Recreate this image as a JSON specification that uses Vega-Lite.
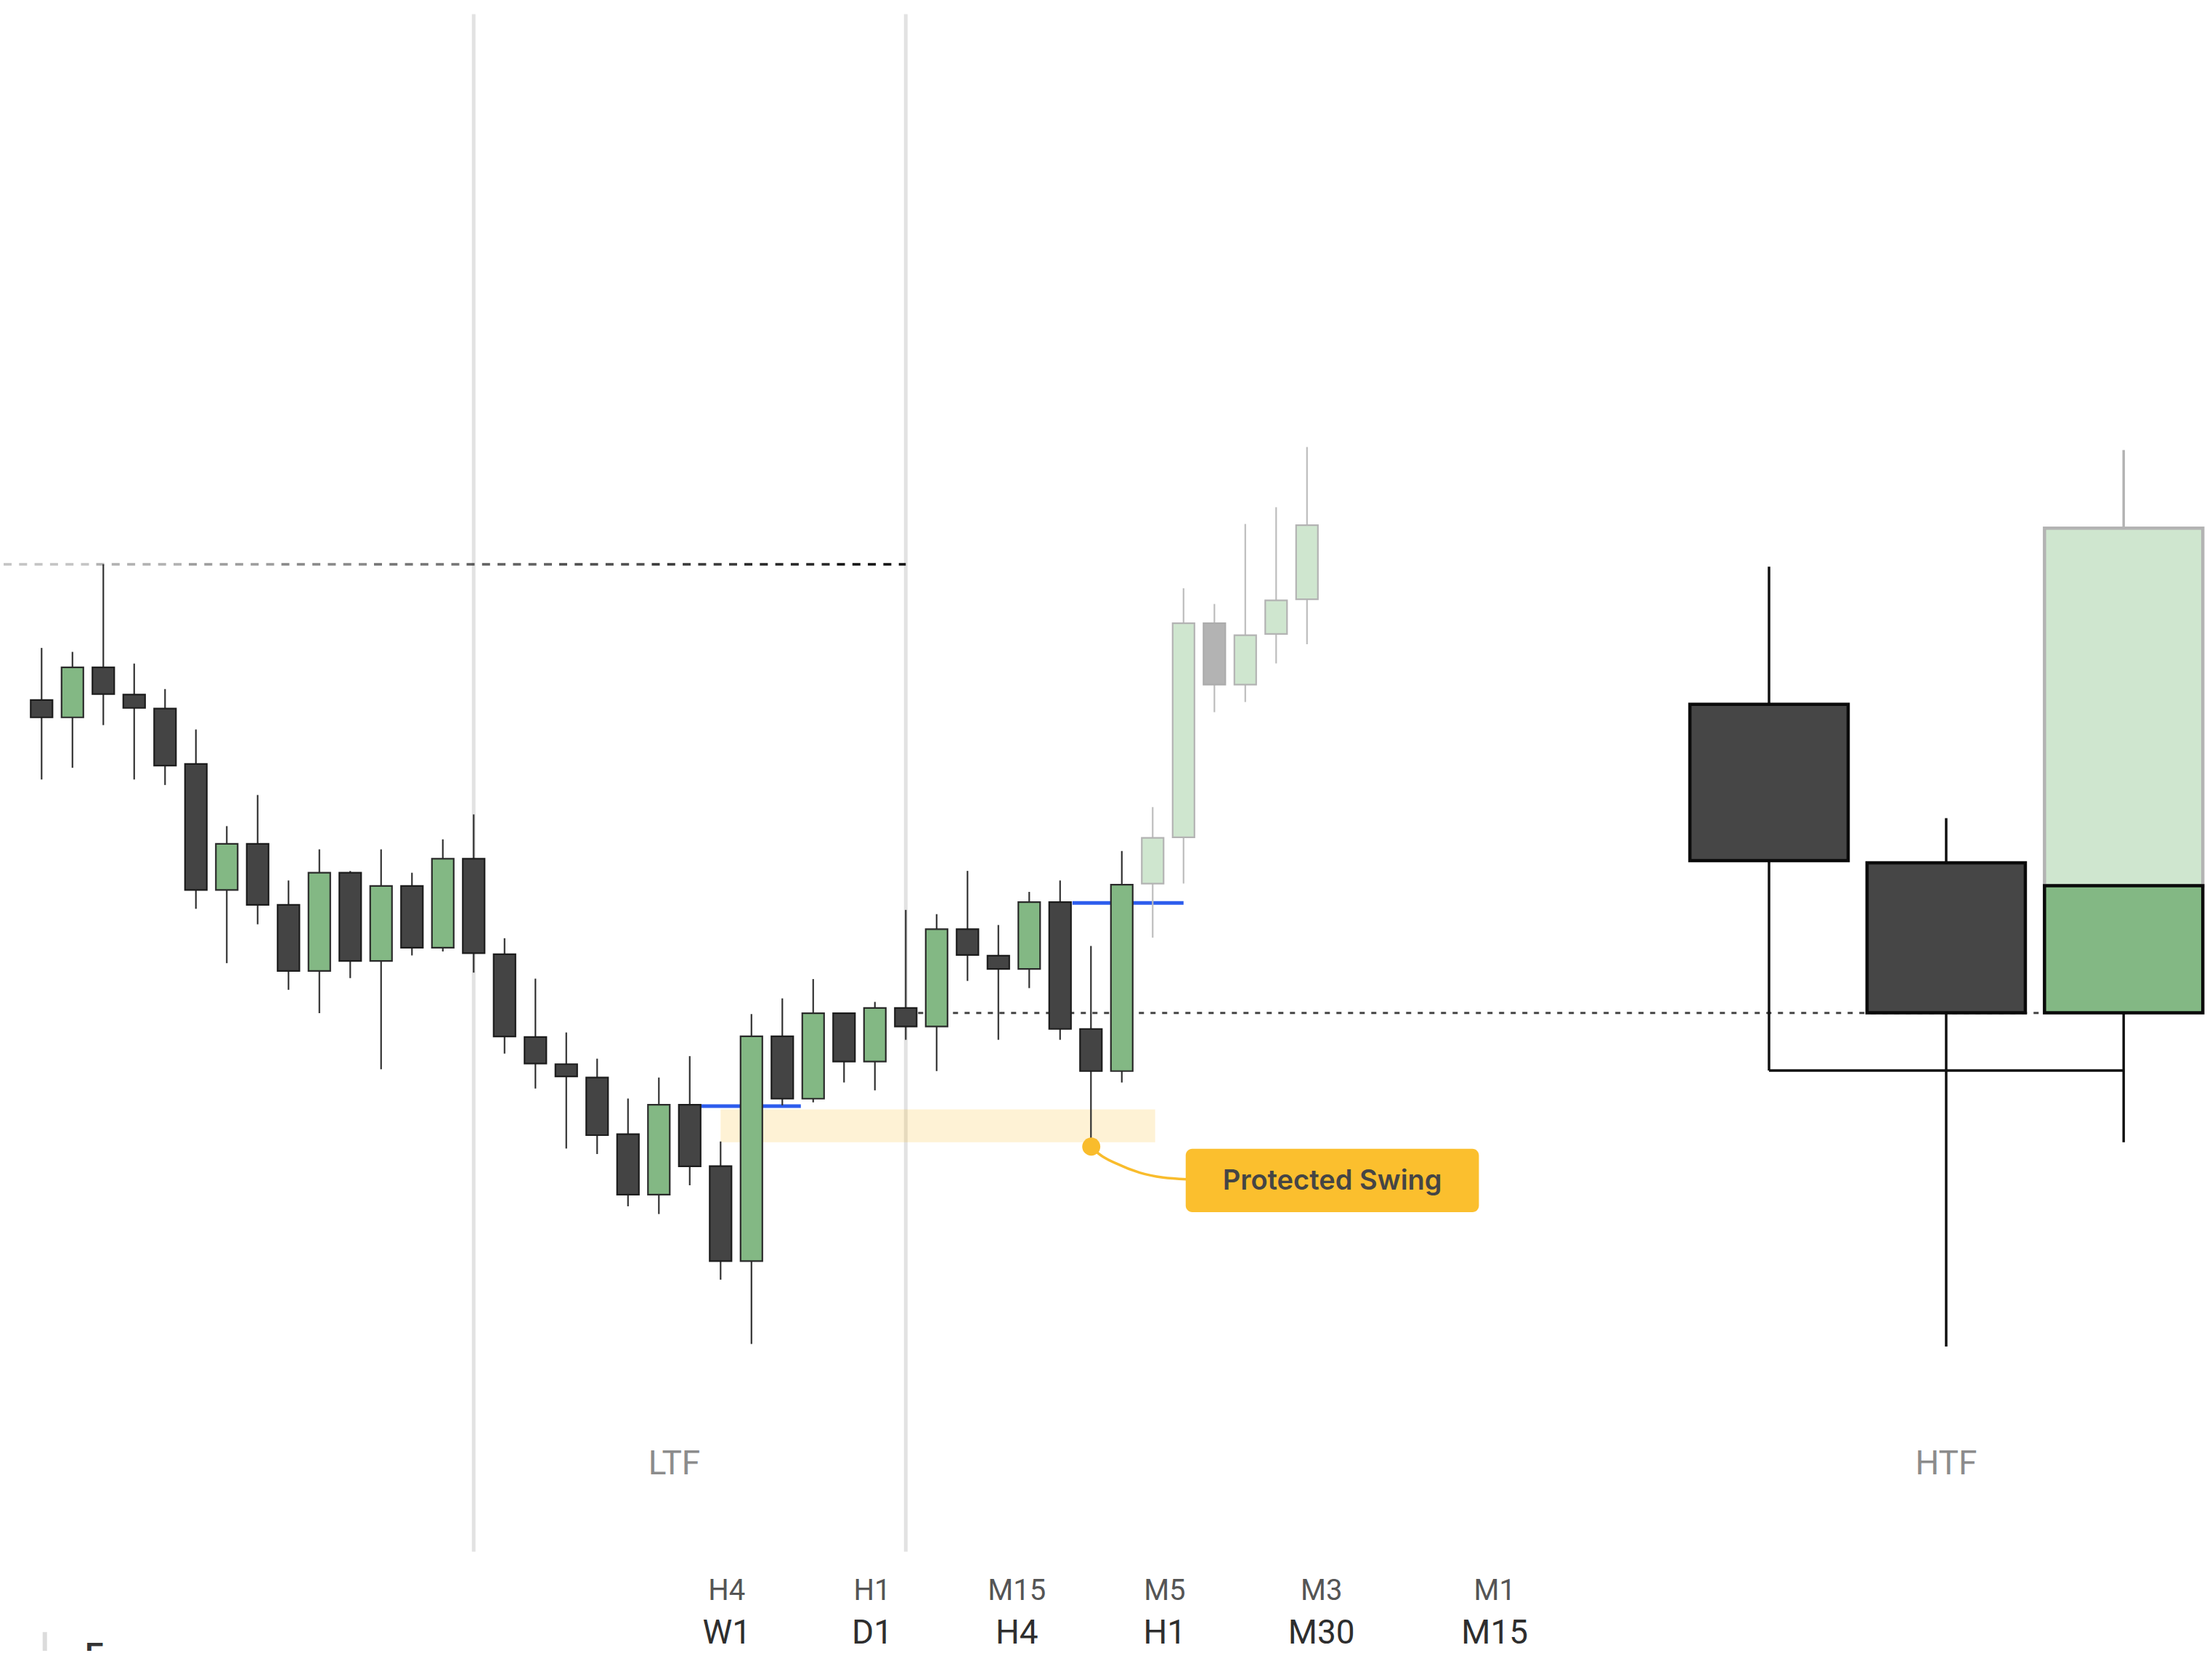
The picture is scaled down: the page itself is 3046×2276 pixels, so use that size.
{
  "$schema": "https://vega.github.io/schema/vega-lite/v6.json",
  "width": 3046,
  "height": 2276,
  "autosize": {"type": "fit", "contains": "padding"},
  "padding": 0,
  "background": "#ffffff",
  "config": {"view": {"stroke": null}},
  "datasets": {
    "ltf": [
      {"i": 1, "o": 67.5, "h": 71.2, "l": 61.86, "c": 66.27, "k": "bear"},
      {"i": 2, "o": 66.27, "h": 70.92, "l": 62.69, "c": 69.82, "k": "bull"},
      {"i": 3, "o": 69.82, "h": 77.14, "l": 65.72, "c": 67.93, "k": "bear"},
      {"i": 4, "o": 67.89, "h": 70.09, "l": 61.86, "c": 66.94, "k": "bear"},
      {"i": 5, "o": 66.9, "h": 68.28, "l": 61.47, "c": 62.85, "k": "bear"},
      {"i": 6, "o": 62.96, "h": 65.41, "l": 52.68, "c": 54.02, "k": "bear"},
      {"i": 7, "o": 54.02, "h": 58.55, "l": 48.82, "c": 57.29, "k": "bull"},
      {"i": 8, "o": 57.29, "h": 60.76, "l": 51.58, "c": 52.96, "k": "bear"},
      {"i": 9, "o": 52.96, "h": 54.69, "l": 46.93, "c": 48.27, "k": "bear"},
      {"i": 10, "o": 48.27, "h": 56.9, "l": 45.27, "c": 55.24, "k": "bull"},
      {"i": 11, "o": 55.24, "h": 55.36, "l": 47.76, "c": 48.98, "k": "bear"},
      {"i": 12, "o": 48.98, "h": 56.9, "l": 41.29, "c": 54.3, "k": "bull"},
      {"i": 13, "o": 54.3, "h": 55.24, "l": 49.37, "c": 49.92, "k": "bear"},
      {"i": 14, "o": 49.92, "h": 57.61, "l": 49.65, "c": 56.23, "k": "bull"},
      {"i": 15, "o": 56.23, "h": 59.38, "l": 48.15, "c": 49.53, "k": "bear"},
      {"i": 16, "o": 49.45, "h": 50.59, "l": 42.4, "c": 43.62, "k": "bear"},
      {"i": 17, "o": 43.58, "h": 47.72, "l": 39.92, "c": 41.69, "k": "bear"},
      {"i": 18, "o": 41.65, "h": 43.9, "l": 35.66, "c": 40.78, "k": "bear"},
      {"i": 19, "o": 40.7, "h": 42.04, "l": 35.27, "c": 36.61, "k": "bear"},
      {"i": 20, "o": 36.68, "h": 39.21, "l": 31.56, "c": 32.39, "k": "bear"},
      {"i": 21, "o": 32.39, "h": 40.7, "l": 31.01, "c": 38.77, "k": "bull"},
      {"i": 22, "o": 38.77, "h": 42.22, "l": 33.05, "c": 34.4, "k": "bear"},
      {"i": 23, "o": 34.41, "h": 36.16, "l": 26.35, "c": 27.67, "k": "bear"},
      {"i": 24, "o": 27.67, "h": 45.21, "l": 21.78, "c": 43.63, "k": "bull"},
      {"i": 25, "o": 43.63, "h": 46.32, "l": 38.72, "c": 39.2, "k": "bear"},
      {"i": 26, "o": 39.2, "h": 47.69, "l": 38.94, "c": 45.26, "k": "bull"},
      {"i": 27, "o": 45.26, "h": 45.26, "l": 40.35, "c": 41.84, "k": "bear"},
      {"i": 28, "o": 41.84, "h": 46.07, "l": 39.79, "c": 45.64, "k": "bull"},
      {"i": 29, "o": 45.64, "h": 52.6, "l": 43.38, "c": 44.32, "k": "bear"},
      {"i": 30, "o": 44.32, "h": 52.3, "l": 41.16, "c": 51.23, "k": "bull"},
      {"i": 31, "o": 51.23, "h": 55.37, "l": 47.56, "c": 49.4, "k": "bear"},
      {"i": 32, "o": 49.35, "h": 51.53, "l": 43.38, "c": 48.41, "k": "bear"},
      {"i": 33, "o": 48.41, "h": 53.88, "l": 47.05, "c": 53.15, "k": "bull"},
      {"i": 34, "o": 53.15, "h": 54.69, "l": 43.38, "c": 44.15, "k": "bear"},
      {"i": 35, "o": 44.15, "h": 50.04, "l": 35.82, "c": 41.16, "k": "bear"},
      {"i": 36, "o": 41.16, "h": 56.78, "l": 40.35, "c": 54.39, "k": "bull"},
      {"i": 37, "o": 54.47, "h": 59.9, "l": 50.63, "c": 57.72, "k": "bull_f"},
      {"i": 38, "o": 57.76, "h": 75.43, "l": 54.47, "c": 72.95, "k": "bull_f"},
      {"i": 39, "o": 72.95, "h": 74.32, "l": 66.64, "c": 68.6, "k": "bear_f"},
      {"i": 40, "o": 68.6, "h": 80.0, "l": 67.36, "c": 72.1, "k": "bull_f"},
      {"i": 41, "o": 72.19, "h": 81.19, "l": 70.1, "c": 74.58, "k": "bull_f"},
      {"i": 42, "o": 74.66, "h": 85.46, "l": 71.46, "c": 79.91, "k": "bull_f"}
    ],
    "htfBodies": [
      {"i": 56.97, "o": 67.2, "c": 56.1, "k": "bear"},
      {"i": 62.71, "o": 55.94, "c": 45.3, "k": "bear"},
      {"i": 68.46, "o": 54.32, "c": 79.7, "k": "bull_f"},
      {"i": 68.46, "o": 45.3, "c": 54.32, "k": "bull"}
    ],
    "htfWicks": [
      {"i": 56.97, "l": 41.2, "h": 76.97, "k": "solid"},
      {"i": 62.71, "l": 21.6, "h": 59.12, "k": "solid"},
      {"i": 68.46, "l": 36.1, "h": 45.3, "k": "solid"},
      {"i": 68.46, "l": 79.7, "h": 85.25, "k": "faded"}
    ],
    "topDash": [
      {"i": -0.23, "i2": 2.77},
      {"i": 2.77, "i2": 5.77},
      {"i": 5.77, "i2": 8.77},
      {"i": 8.77, "i2": 11.77},
      {"i": 11.77, "i2": 14.77},
      {"i": 14.77, "i2": 17.77},
      {"i": 17.77, "i2": 20.77},
      {"i": 20.77, "i2": 23.77},
      {"i": 23.77, "i2": 26.77},
      {"i": 26.77, "i2": 29.0}
    ],
    "curve": [
      {"i": 35.01, "p": 35.8},
      {"i": 35.24, "p": 35.31},
      {"i": 35.83, "p": 34.59},
      {"i": 36.58, "p": 33.95},
      {"i": 37.33, "p": 33.6},
      {"i": 38.1, "p": 33.48}
    ],
    "bottomTop": [
      {"i": 23.2, "t": "H4"},
      {"i": 27.91, "t": "H1"},
      {"i": 32.6, "t": "M15"},
      {"i": 37.39, "t": "M5"},
      {"i": 42.47, "t": "M3"},
      {"i": 48.08, "t": "M1"}
    ],
    "bottomMain": [
      {"i": 23.2, "t": "W1"},
      {"i": 27.91, "t": "D1"},
      {"i": 32.6, "t": "H4"},
      {"i": 37.39, "t": "H1"},
      {"i": 42.47, "t": "M30"},
      {"i": 48.08, "t": "M15"}
    ]
  },
  "layer": [
    {
      "data": {"values": [{"i": 15}, {"i": 29}]},
      "mark": {"type": "rule", "stroke": "#e2e2e2", "strokeWidth": 5},
      "encoding": {
        "x": {"field": "i", "type": "quantitative", "scale": {"domain": [-0.23, 71.205], "nice": false, "zero": false}, "axis": null},
        "y": {"datum": 116.2, "type": "quantitative", "scale": {"domain": [0, 117.2], "nice": false, "zero": false}, "axis": null},
        "y2": {"datum": 7.04}
      }
    },
    {
      "data": {"values": [{"i": 23.0, "i2": 37.08, "p": 38.44, "p2": 36.1}]},
      "mark": {"type": "rect", "fill": "#f9bc2c", "opacity": 0.2},
      "encoding": {
        "x": {"field": "i", "type": "quantitative"},
        "x2": {"field": "i2"},
        "y": {"field": "p", "type": "quantitative"},
        "y2": {"field": "p2"}
      }
    },
    {
      "data": {"name": "topDash"},
      "mark": {"type": "rule", "stroke": "#111111", "strokeWidth": 3.5, "strokeDash": [11, 10.3]},
      "encoding": {
        "x": {"field": "i", "type": "quantitative"},
        "x2": {"field": "i2"},
        "y": {"datum": 77.14, "type": "quantitative"},
        "opacity": {"field": "i", "type": "quantitative", "scale": {"domain": [-0.23, 26.77], "range": [0.25, 1]}, "legend": null}
      }
    },
    {
      "data": {"values": [{"i": 29.4, "i2": 65.83, "p": 45.28}]},
      "mark": {"type": "rule", "stroke": "#444444", "strokeWidth": 3, "strokeDash": [7, 9]},
      "encoding": {
        "x": {"field": "i", "type": "quantitative"},
        "x2": {"field": "i2"},
        "y": {"field": "p", "type": "quantitative"}
      }
    },
    {
      "data": {"values": [{"i": 22.37, "i2": 25.6, "p": 38.67}, {"i": 34.4, "i2": 38.0, "p": 53.1}]},
      "mark": {"type": "rule", "stroke": "#2d5ded", "strokeWidth": 5},
      "encoding": {
        "x": {"field": "i", "type": "quantitative"},
        "x2": {"field": "i2"},
        "y": {"field": "p", "type": "quantitative"}
      }
    },
    {
      "data": {"values": [{"i": 56.97, "i2": 68.46, "p": 41.2}]},
      "mark": {"type": "rule", "stroke": "#111111", "strokeWidth": 3.5},
      "encoding": {
        "x": {"field": "i", "type": "quantitative"},
        "x2": {"field": "i2"},
        "y": {"field": "p", "type": "quantitative"}
      }
    },
    {
      "data": {"name": "ltf"},
      "mark": {"type": "rule", "strokeWidth": 2.2},
      "encoding": {
        "x": {"field": "i", "type": "quantitative"},
        "y": {"field": "l", "type": "quantitative"},
        "y2": {"field": "h"},
        "stroke": {"field": "k", "type": "nominal", "scale": {"domain": ["bear", "bull", "bear_f", "bull_f"], "range": ["#333333", "#333333", "#bdbdbd", "#bdbdbd"]}, "legend": null}
      }
    },
    {
      "data": {"name": "htfWicks"},
      "mark": {"type": "rule", "strokeWidth": 3.5},
      "encoding": {
        "x": {"field": "i", "type": "quantitative"},
        "y": {"field": "l", "type": "quantitative"},
        "y2": {"field": "h"},
        "stroke": {"field": "k", "type": "nominal", "scale": {"domain": ["solid", "faded"], "range": ["#111111", "#b3b3b3"]}, "legend": null}
      }
    },
    {
      "data": {"name": "ltf"},
      "mark": {"type": "bar", "size": 30, "strokeWidth": 2.2},
      "encoding": {
        "x": {"field": "i", "type": "quantitative"},
        "y": {"field": "o", "type": "quantitative"},
        "y2": {"field": "c"},
        "fill": {"field": "k", "type": "nominal", "scale": {"domain": ["bear", "bull", "bear_f", "bull_f"], "range": ["#444444", "#83b884", "#b3b3b3", "#cfe6cf"]}, "legend": null},
        "stroke": {"field": "k", "type": "nominal", "scale": {"domain": ["bear", "bull", "bear_f", "bull_f"], "range": ["#1c1c1c", "#2a2a2a", "#acacac", "#b3b3b3"]}, "legend": null}
      }
    },
    {
      "data": {"name": "htfBodies"},
      "mark": {"type": "bar", "size": 218, "strokeWidth": 4.5},
      "encoding": {
        "x": {"field": "i", "type": "quantitative"},
        "y": {"field": "o", "type": "quantitative"},
        "y2": {"field": "c"},
        "fill": {"field": "k", "type": "nominal", "scale": {"domain": ["bear", "bull", "bull_f"], "range": ["#464646", "#83b884", "#cfe6cf"]}, "legend": null},
        "stroke": {"field": "k", "type": "nominal", "scale": {"domain": ["bear", "bull", "bull_f"], "range": ["#0a0a0a", "#0a0a0a", "#b3b3b3"]}, "legend": null}
      }
    },
    {
      "data": {"name": "curve"},
      "mark": {"type": "line", "stroke": "#f9bc2c", "strokeWidth": 3.5, "interpolate": "monotone"},
      "encoding": {
        "x": {"field": "i", "type": "quantitative"},
        "y": {"field": "p", "type": "quantitative"}
      }
    },
    {
      "data": {"values": [{"i": 35.01, "p": 35.8}]},
      "mark": {"type": "point", "filled": true, "fill": "#f9bc2c", "opacity": 1, "size": 620, "shape": "circle"},
      "encoding": {
        "x": {"field": "i", "type": "quantitative"},
        "y": {"field": "p", "type": "quantitative"}
      }
    },
    {
      "data": {"values": [{"i": 38.07, "i2": 47.57, "p": 35.64, "p2": 31.14, "t": "Protected Swing", "ti": 42.82, "tp": 32.73}]},
      "layer": [
        {
          "mark": {"type": "rect", "fill": "#fbbf2e", "cornerRadius": 9},
          "encoding": {
            "x": {"field": "i", "type": "quantitative"},
            "x2": {"field": "i2"},
            "y": {"field": "p", "type": "quantitative"},
            "y2": {"field": "p2"}
          }
        },
        {
          "mark": {"type": "text", "font": "Inter", "fontWeight": 600, "fontSize": 38, "fill": "#454545", "align": "center", "baseline": "alphabetic"},
          "encoding": {
            "x": {"field": "ti", "type": "quantitative"},
            "y": {"field": "tp", "type": "quantitative"},
            "text": {"field": "t"}
          }
        }
      ]
    },
    {
      "data": {"values": [{"i": 21.5, "p": 12.55, "t": "LTF"}, {"i": 62.71, "p": 12.55, "t": "HTF"}]},
      "mark": {"type": "text", "font": "Roboto", "fontSize": 46, "fill": "#8c8c8c", "align": "center", "baseline": "alphabetic"},
      "encoding": {
        "x": {"field": "i", "type": "quantitative"},
        "y": {"field": "p", "type": "quantitative"},
        "text": {"field": "t"}
      }
    },
    {
      "data": {"name": "bottomTop"},
      "mark": {"type": "text", "font": "Roboto", "fontSize": 40, "fill": "#555555", "align": "center", "baseline": "alphabetic"},
      "encoding": {
        "x": {"field": "i", "type": "quantitative"},
        "y": {"datum": 3.61, "type": "quantitative"},
        "text": {"field": "t"}
      }
    },
    {
      "data": {"name": "bottomMain"},
      "mark": {"type": "text", "font": "Roboto", "fontSize": 46, "fontWeight": 400, "fill": "#2e2e2e", "align": "center", "baseline": "alphabetic"},
      "encoding": {
        "x": {"field": "i", "type": "quantitative"},
        "y": {"datum": 0.52, "type": "quantitative"},
        "text": {"field": "t"}
      }
    },
    {
      "data": {"values": [{"i": 1.105, "p": 1.33, "p2": 0}]},
      "mark": {"type": "rule", "stroke": "#dcdcdc", "strokeWidth": 6},
      "encoding": {
        "x": {"field": "i", "type": "quantitative"},
        "y": {"field": "p", "type": "quantitative"},
        "y2": {"field": "p2"}
      }
    },
    {
      "data": {"values": [{"i": 2.4, "p": -1.11, "t": "E"}]},
      "mark": {"type": "text", "font": "Roboto", "fontSize": 46, "fontWeight": 500, "fill": "#333333", "align": "left", "baseline": "alphabetic", "clip": true},
      "encoding": {
        "x": {"field": "i", "type": "quantitative"},
        "y": {"field": "p", "type": "quantitative"},
        "text": {"field": "t"}
      }
    }
  ],
  "resolve": {"scale": {"stroke": "independent", "fill": "independent", "opacity": "independent"}}
}
